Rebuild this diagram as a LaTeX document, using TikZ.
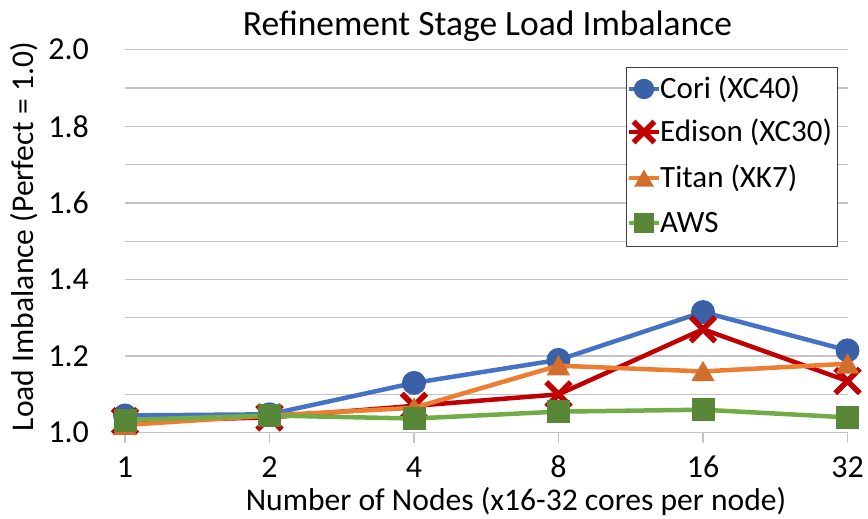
\documentclass[tikz,border=0pt]{standalone}
\usepackage{fontspec}
\setmainfont{Carlito}
\usepackage{xcolor}
\usepackage{tikz}
\usetikzlibrary{positioning, shapes}

\definecolor{cori}{HTML}{4472C4}
\definecolor{edison}{HTML}{C00000}
\definecolor{titan}{HTML}{ED7D31}
\definecolor{aws}{HTML}{70AD47}
\definecolor{gridgray}{HTML}{C4C4C4}

\begin{document}
\begin{tikzpicture}
        [
        x=1pt, y=1pt,
        gridline/.style = {draw=gridgray, line width=1.3pt},
        serie/.style = {line width=4.5pt, line join=round},
        coridot/.style = {circle, fill=cori!85!black, minimum size=24pt, inner sep=0pt},
        edisoncross/.style = {cross out, draw=edison, line width=5.5pt, minimum size=19pt, inner sep=0pt},
        titantri/.style = {regular polygon, regular polygon sides=3, fill=titan!88!black, minimum size=27pt, inner sep=0pt, yshift=-3pt},
        awsbox/.style = {rectangle, fill=aws!78!black, minimum size=23pt, inner sep=0pt},
        ticklabel/.style = {font=\fontsize{32}{38}\selectfont, inner sep=0pt},
        axistitle/.style = {font=\fontsize{31.6}{38}\selectfont, inner sep=0pt},
        legendtext/.style = {font=\fontsize{31}{37}\selectfont, inner sep=0pt, anchor=west}
        ]
    \useasboundingbox (0,0) rectangle (868,519);

    \node[font=\fontsize{35.5}{42}\selectfont, inner sep=0pt, anchor=base] (title) at (487.5,483) {Refinement Stage Load Imbalance};

    \begin{scope}[shift={(125,86.3)}, x=144.5pt, y=383pt]
    % grid and axis
    \foreach \k in {1,...,10}
        \draw[gridline] (0,\k/10) -- (5,\k/10);
    \draw[gridline] (0,0) coordinate (origin) -- (5,0) coordinate (xend);
    \foreach \i in {0,...,5}
        \draw[gridline] (\i,0) -- ++(0,-10pt);

    \foreach \v/\t in {0/1.0, 0.2/1.2, 0.4/1.4, 0.6/1.6, 0.8/1.8, 1/2.0}
        \node[ticklabel, anchor=east, xshift=-36pt] (ylab-\t) at (0,\v) {\t};
    \foreach \t [count=\i from 0] in {1,2,4,8,16,32}
        \node[ticklabel, anchor=base, yshift=-45.3pt] (xlab-\t) at (\i,0) {\t};

    % data points
    \foreach \v [count=\i from 0] in {1.045,1.048,1.13,1.19,1.315,1.215}
        \coordinate (cori-\i) at (\i,\v-1);
    \foreach \v [count=\i from 0] in {1.03,1.04,1.07,1.10,1.27,1.135}
        \coordinate (edison-\i) at (\i,\v-1);
    \foreach \v [count=\i from 0] in {1.02,1.045,1.065,1.175,1.16,1.18}
        \coordinate (titan-\i) at (\i,\v-1);
    \foreach \v [count=\i from 0] in {1.033,1.045,1.037,1.055,1.06,1.04}
        \coordinate (aws-\i) at (\i,\v-1);

    \draw[serie, cori] (cori-0) -- (cori-1) -- (cori-2) -- (cori-3) -- (cori-4) -- (cori-5);
    \foreach \i in {0,...,5} \node[coridot] (cori-m\i) at (cori-\i) {};
    \draw[serie, edison] (edison-0) -- (edison-1) -- (edison-2) -- (edison-3) -- (edison-4) -- (edison-5);
    \foreach \i in {0,...,5} \node[edisoncross] (edison-m\i) at (edison-\i) {};
    \draw[serie, titan] (titan-0) -- (titan-1) -- (titan-2) -- (titan-3) -- (titan-4) -- (titan-5);
    \foreach \i in {0,...,5} \node[titantri] (titan-m\i) at (titan-\i) {};
    \draw[serie, aws] (aws-0) -- (aws-1) -- (aws-2) -- (aws-3) -- (aws-4) -- (aws-5);
    \foreach \i in {0,...,5} \node[awsbox] (aws-m\i) at (aws-\i) {};
    \end{scope}

    % legend
    \node[draw=black!75, line width=1pt, fill=white, minimum width=211pt, minimum height=179pt, inner sep=0pt] (legend) at (731.5,361.5) {};
    \foreach \s/\y/\m in {cori/430/coridot, edison/387/edisoncross, titan/341/titantri, aws/296/awsbox} {
        \coordinate (\s-a) at (629,\y);
        \coordinate (\s-b) at (659,\y);
        \draw[serie, \s] (\s-a) -- (\s-b);
        \node[\m, scale=0.85] (\s-key) at (644,\y) {};
    }
    \node[legendtext, right=1pt of cori-b] (cori-txt) {Cori (XC40)};
    \node[legendtext, right=1pt of edison-b] (edison-txt) {Edison (XC30)};
    \node[legendtext, right=1pt of titan-b] (titan-txt) {Titan (XK7)};
    \node[legendtext, right=1pt of aws-b] (aws-txt) {AWS};

    % axis titles
    \node[axistitle, anchor=base] (xtitle) at (516,8.5) {Number of Nodes (x16-32 cores per node)};
    \node[axistitle, rotate=90, anchor=base] (ytitle) at (33,282.5) {Load Imbalance (Perfect = 1.0)};
\end{tikzpicture}
\end{document}
